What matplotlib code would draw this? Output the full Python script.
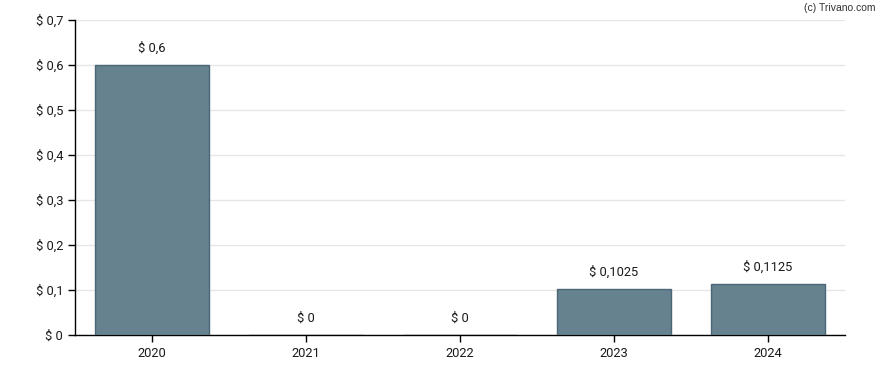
import matplotlib
matplotlib.use("Agg")
import matplotlib.pyplot as plt

years = ["2020", "2021", "2022", "2023", "2024"]
values = [0.6, 0.0, 0.0, 0.1025, 0.1125]
labels = ["$ 0,6", "$ 0", "$ 0", "$ 0,1025", "$ 0,1125"]
yticks = [0, 0.1, 0.2, 0.3, 0.4, 0.5, 0.6, 0.7]
ytick_labels = ["$ 0", "$ 0,1", "$ 0,2", "$ 0,3", "$ 0,4", "$ 0,5", "$ 0,6", "$ 0,7"]

plt.rcParams['font.family'] = ['Roboto', 'DejaVu Sans']

fig = plt.figure(figsize=(8.88, 3.70), dpi=100)
ax = fig.add_axes([75/888, 35/370, 770/888, 315/370])

x = list(range(len(years)))
ax.bar(x, values, width=0.74, color="#66828f", edgecolor="#4b6677", linewidth=1, zorder=3)
for xi, v, lab in zip(x, values, labels):
    ax.annotate(lab, (xi, v), xytext=(0, 7.5), textcoords="offset points",
                ha="center", va="bottom", fontsize=9.3, color="#1a1a1a")

ax.set_xlim(-0.5, 4.5)
ax.set_ylim(0, 0.7)
ax.set_xticks(x)
ax.set_xticklabels(years)
ax.set_yticks(yticks)
ax.set_yticklabels(ytick_labels)
ax.tick_params(axis="both", labelsize=9.3, colors="#1a1a1a", length=5, width=1)
ax.tick_params(axis="both", color="#000000")
ax.grid(axis="y", color="#e6e6e6", linewidth=1, zorder=0)
ax.set_axisbelow(True)
for s in ["top", "right"]:
    ax.spines[s].set_visible(False)
for s in ["left", "bottom"]:
    ax.spines[s].set_color("#000000")
    ax.spines[s].set_linewidth(1)

fig.text(875/888, 1 - 8/370, "(c) Trivano.com", ha="right", va="center",
         fontsize=7.5, color="#333333", family=["Liberation Sans", "DejaVu Sans"])

fig.savefig("out.png", dpi=100)
